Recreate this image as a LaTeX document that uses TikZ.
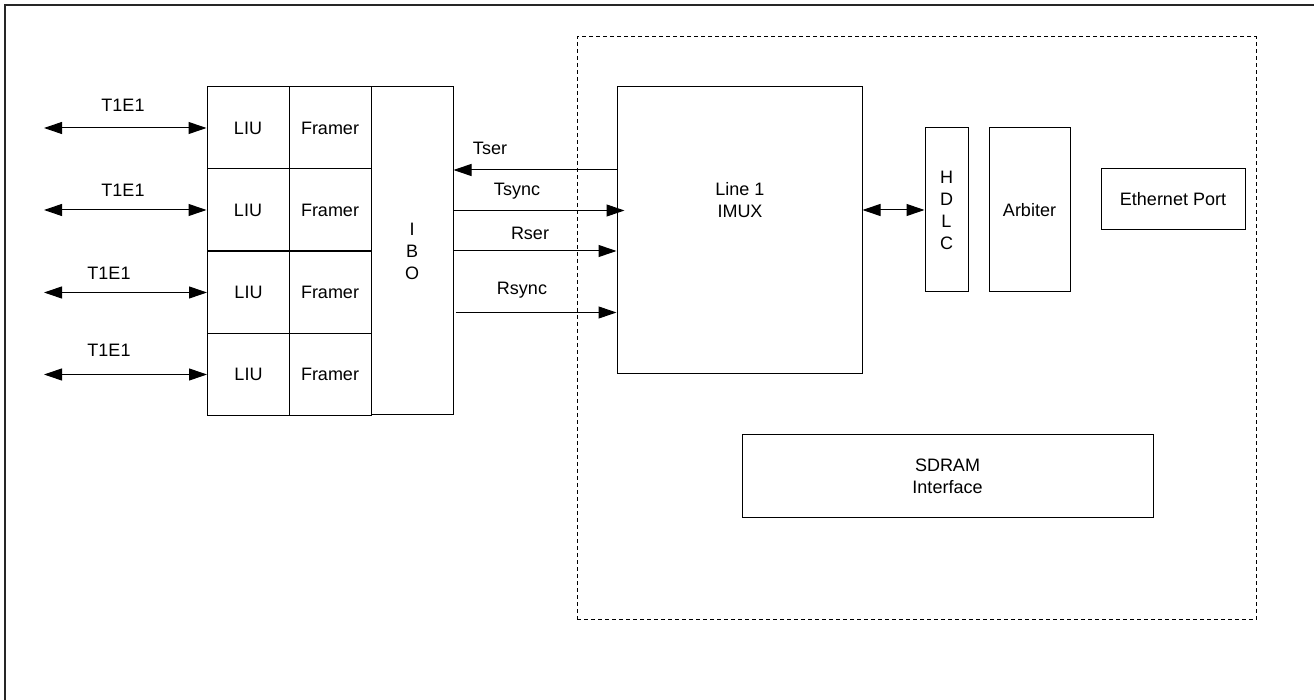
\documentclass[tikz,border=0pt]{standalone}
\usepackage{fontspec}
\setmainfont{Liberation Sans}
\usetikzlibrary{arrows.meta,positioning}

\begin{document}
\begin{tikzpicture}[x=0.5pt, y=-0.5pt,
  blk/.style={rectangle, draw, line width=0.5pt, inner sep=0pt, align=center, font=\fontsize{9}{11}\selectfont},
  lbl/.style={inner sep=1pt, font=\fontsize{9}{11}\selectfont},
  arr/.style={-{Triangle[length=9pt, width=6pt]}, line width=0.5pt},
  biarr/.style={{Triangle[length=9pt, width=6pt]}-{Triangle[length=9pt, width=6pt]}, line width=0.5pt}
]
  \useasboundingbox (0,0) rectangle (1314,700);
  \draw[line width=0.8pt, black!85] (1314,5) -- (5,5) -- (5,700);

  % board outline
  \node[draw, line width=0.5pt, dash pattern=on 2pt off 1.5pt, minimum width=339.5pt, minimum height=291.5pt] (board) at (916.5,328.5) {};

  % line side
  \node[blk, minimum width=41pt, minimum height=41pt] (liu1) at (248,128) {LIU};
  \node[blk, minimum width=41pt, minimum height=41pt] (liu2) at (248,210) {LIU};
  \node[blk, minimum width=41pt, minimum height=41pt] (liu3) at (248.5,292.5) {LIU};
  \node[blk, minimum width=41pt, minimum height=41pt] (liu4) at (248.5,374.5) {LIU};
  \node[blk, minimum width=41pt, minimum height=41pt] (fr1) at (330,128) {Framer};
  \node[blk, minimum width=41pt, minimum height=41pt] (fr2) at (330,210) {Framer};
  \node[blk, minimum width=41pt, minimum height=41pt] (fr3) at (330,292.5) {Framer};
  \node[blk, minimum width=41pt, minimum height=41pt] (fr4) at (330,374.5) {Framer};
  \node[blk, minimum width=41pt, minimum height=164pt] (ibo) at (412,251) {I\\B\\O};

  \coordinate (line1) at (44,128);
  \coordinate (line2) at (44,210);
  \coordinate (line3) at (44,292.5);
  \coordinate (line4) at (44,374.5);
  \draw[biarr] (line1) -- (liu1);
  \draw[biarr] (line2) -- (liu2);
  \draw[biarr] (line3) -- (liu3);
  \draw[biarr] (line4) -- (liu4);
  \node[lbl] (t1) at (123,105) {T1E1};
  \node[lbl] (t2) at (123,190) {T1E1};
  \node[lbl] (t3) at (109,273) {T1E1};
  \node[lbl] (t4) at (109,350) {T1E1};

  % board side
  \node[blk, minimum width=122.5pt, minimum height=143.5pt] (imux) at (739.5,230.5) {};
  \node[lbl, align=center] (imuxtxt) at (740,200) {Line 1\\IMUX};
  \node[blk, minimum width=21.5pt, minimum height=82pt] (hdlc) at (946.5,210) {H\\D\\L\\C};
  \node[blk, minimum width=40.5pt, minimum height=82pt] (arb) at (1029.5,210) {Arbiter};
  \node[blk, minimum width=72pt, minimum height=30.5pt] (eth) at (1173,199.5) {Ethernet Port};
  \node[blk, minimum width=205.5pt, minimum height=41.5pt] (sdram) at (947.5,476.5) {SDRAM\\Interface};

  \draw[biarr] (imux.east |- hdlc.west) -- (hdlc.west);

  % serial signals
  \coordinate (tserY) at (0,170);
  \coordinate (tsyncY) at (0,210.5);
  \coordinate (rserY) at (0,251);
  \coordinate (rsyncY) at (0,312.5);
  \draw[arr] (imux.west |- tserY) -- (ibo.east |- tserY);
  \draw[arr] (ibo.east |- tsyncY) -- ([xshift=4pt]imux.west |- tsyncY);
  \draw[arr] (ibo.east |- rserY) -- (imux.west |- rserY);
  \draw[arr] ([xshift=1pt]ibo.east |- rsyncY) -- (imux.west |- rsyncY);
  \node[lbl] (tser) at (490,148) {Tser};
  \node[lbl] (tsync) at (517,191) {Tsync};
  \node[lbl] (rser) at (530,233) {Rser};
  \node[lbl] (rsync) at (522,290) {Rsync};
\end{tikzpicture}
\end{document}
